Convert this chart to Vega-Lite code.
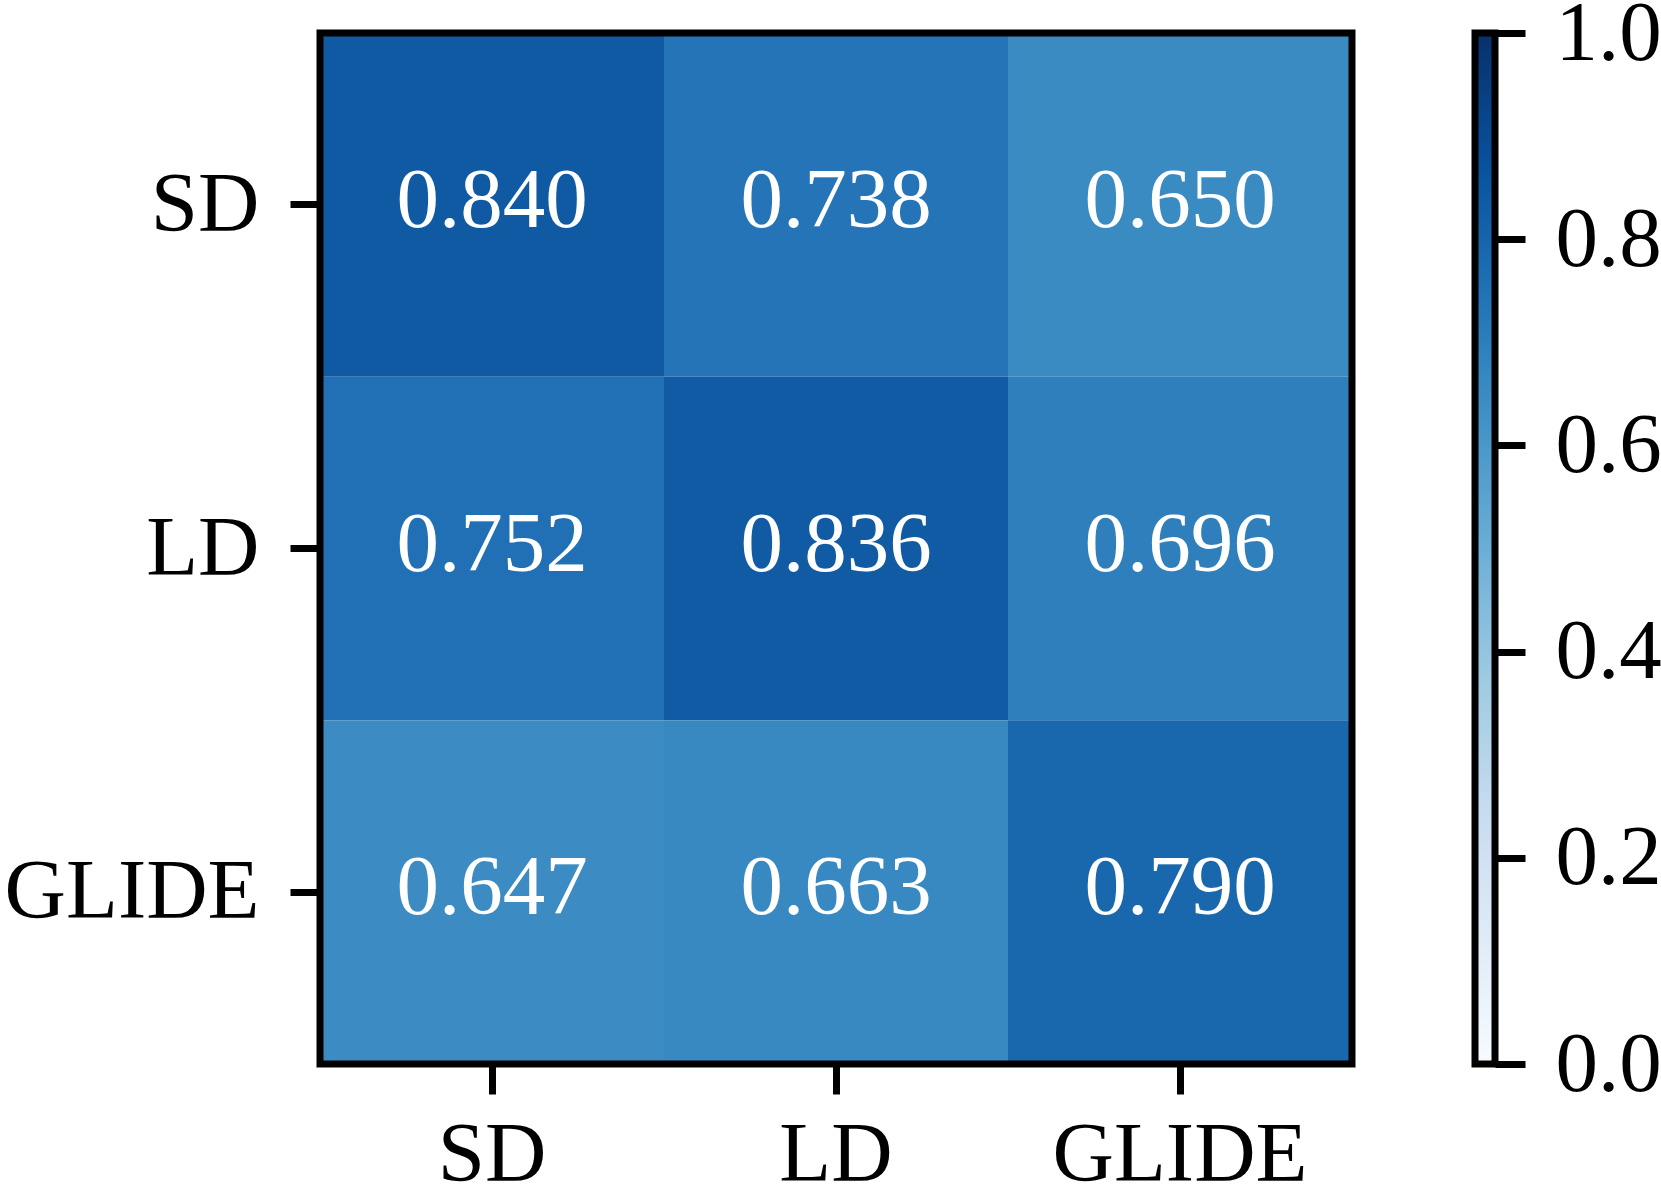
{
  "$schema": "https://vega.github.io/schema/vega-lite/v6.json",
  "padding": {"left": 4, "top": -9, "right": 0, "bottom": 0},
  "background": "white",
  "spacing": 123,
  "bounds": "flush",
  "config": {
    "view": {"stroke": null},
    "font": "Liberation Serif",
    "text": {"font": "Liberation Serif"},
    "axis": {
      "domain": false,
      "grid": false,
      "ticks": true,
      "tickColor": "black",
      "tickWidth": 7,
      "tickSize": 30,
      "labelColor": "black",
      "labelFont": "Liberation Serif",
      "labelFontSize": 85,
      "labelLimit": 0,
      "title": null
    }
  },
  "hconcat": [
    {
      "width": 1032,
      "height": 1031,
      "data": {
        "values": [
          {"row": "SD", "col": "SD", "value": 0.840},
          {"row": "SD", "col": "LD", "value": 0.738},
          {"row": "SD", "col": "GLIDE", "value": 0.650},
          {"row": "LD", "col": "SD", "value": 0.752},
          {"row": "LD", "col": "LD", "value": 0.836},
          {"row": "LD", "col": "GLIDE", "value": 0.696},
          {"row": "GLIDE", "col": "SD", "value": 0.647},
          {"row": "GLIDE", "col": "LD", "value": 0.663},
          {"row": "GLIDE", "col": "GLIDE", "value": 0.790}
        ]
      },
      "layer": [
        {
          "mark": {"type": "rect"},
          "encoding": {
            "x": {
              "field": "col",
              "type": "nominal",
              "sort": ["SD", "LD", "GLIDE"],
              "scale": {"paddingInner": 0, "paddingOuter": 0},
              "axis": {"orient": "bottom", "labelAngle": 0, "labelPadding": 19, "labelBaseline": "top"}
            },
            "y": {
              "field": "row",
              "type": "nominal",
              "sort": ["SD", "LD", "GLIDE"],
              "scale": {"paddingInner": 0, "paddingOuter": 0},
              "axis": {"orient": "left", "labelPadding": 31}
            },
            "color": {
              "field": "value",
              "type": "quantitative",
              "scale": {
                "domain": [0, 0.125, 0.25, 0.375, 0.5, 0.625, 0.75, 0.875, 1],
                "range": ["#f7fbff", "#deebf7", "#c6dbef", "#9ecae1", "#6baed6", "#4292c6", "#2171b5", "#08519c", "#08306b"],
                "interpolate": "rgb"
              },
              "legend": null
            }
          }
        },
        {
          "mark": {"type": "text", "color": "white", "fontSize": 85, "font": "Liberation Serif", "dy": -4},
          "encoding": {
            "x": {"field": "col", "type": "nominal", "sort": ["SD", "LD", "GLIDE"]},
            "y": {"field": "row", "type": "nominal", "sort": ["SD", "LD", "GLIDE"]},
            "text": {"field": "value", "type": "quantitative", "format": ".3f"}
          }
        },
        {
          "data": {"values": [{"frame": 1}]},
          "mark": {"type": "rect", "fill": null, "fillOpacity": 0, "stroke": "black", "strokeWidth": 7},
          "encoding": {}
        }
      ]
    },
    {
      "width": 20,
      "height": 1031,
      "data": {"values": [{"lo": 0, "hi": 1}]},
      "mark": {
        "type": "rect",
        "stroke": "black",
        "strokeWidth": 7,
        "color": {
          "gradient": "linear",
          "x1": 0, "y1": 1, "x2": 0, "y2": 0,
          "stops": [
            {"offset": 0, "color": "#f7fbff"},
            {"offset": 0.125, "color": "#deebf7"},
            {"offset": 0.25, "color": "#c6dbef"},
            {"offset": 0.375, "color": "#9ecae1"},
            {"offset": 0.5, "color": "#6baed6"},
            {"offset": 0.625, "color": "#4292c6"},
            {"offset": 0.75, "color": "#2171b5"},
            {"offset": 0.875, "color": "#08519c"},
            {"offset": 1, "color": "#08306b"}
          ]
        }
      },
      "encoding": {
        "y": {
          "field": "lo",
          "type": "quantitative",
          "scale": {"domain": [0, 1], "nice": false, "zero": false},
          "axis": {
            "orient": "right",
            "values": [0, 0.2, 0.4, 0.6, 0.8, 1.0],
            "format": ".1f",
            "labelPadding": 30
          }
        },
        "y2": {"field": "hi"}
      }
    }
  ]
}
